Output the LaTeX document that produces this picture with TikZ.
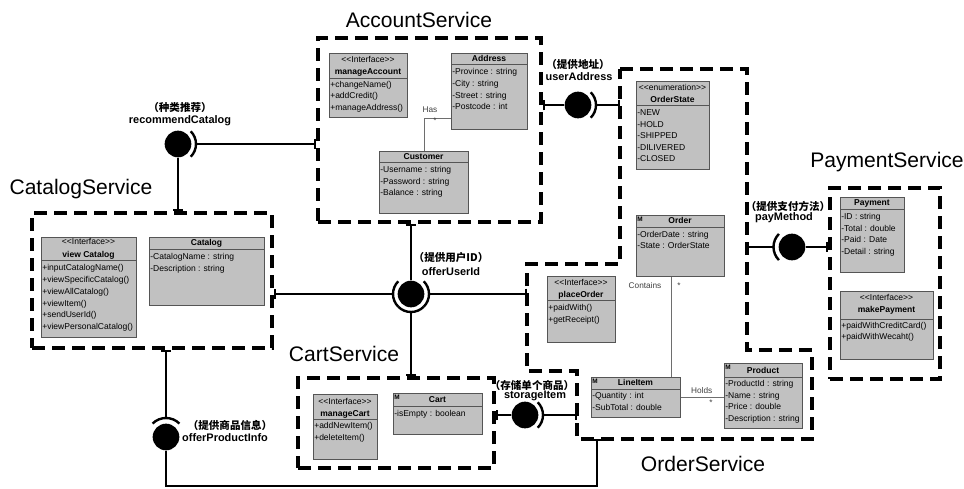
\documentclass[tikz,border=0pt]{standalone}
\usepackage{fontspec}
\setmainfont{Liberation Sans}
\newfontfamily\cjkfont{Noto Sans CJK SC}
\usetikzlibrary{calc,fit,arrows.meta}

\definecolor{clsfill}{RGB}{193,193,193}
\definecolor{clsline}{RGB}{85,85,85}
\definecolor{assocline}{RGB}{110,110,110}

\tikzset{
  svcbound/.style={draw=black, line width=2.5pt, dash pattern=on 9.5pt off 5.5pt, inner sep=0pt},
  orderbound/.style={draw=black, line width=2.5pt, dash pattern=on 9.5pt off 5.5pt},
  clsbox/.style={draw=clsline, fill=clsfill, line width=0.75pt, inner sep=0pt},
  clsdiv/.style={draw=clsline, line width=0.75pt},
  clstext/.style={font=\fontsize{6.4}{7}\selectfont, inner sep=0pt, text height=4.7pt, text depth=1.3pt},
  clsattr/.style={clstext, anchor=west},
  clsname/.style={clstext, font=\fontsize{6.4}{7}\selectfont\bfseries},
  clsicon/.style={font=\fontsize{4.8}{5}\selectfont\bfseries, inner sep=0pt},
  assoc/.style={draw=assocline, line width=0.6pt},
  assoclabel/.style={font=\fontsize{6.2}{7}\selectfont, text=black!75, inner sep=0pt},
  conn/.style={draw=black, line width=1.6pt},
  port/.style={-{Bar[width=8pt]}},
  ball/.style={circle, fill=black, minimum size=20pt, inner sep=0pt},
  socket/.style={draw=black, line width=1.8pt},
  svctitle/.style={font=\fontsize{15.8}{18}\selectfont, inner sep=0pt},
  ifcn/.style={font=\cjkfont\bfseries\fontsize{7.9}{9}\selectfont, inner sep=0pt},
  ifen/.style={font=\bfseries\fontsize{8.2}{9}\selectfont, inner sep=0pt},
}

% class box: name, x1, y1, x2, y2, y of the divider under the header
\newcommand{\umlbox}[6]{%
  \coordinate (#1-nw) at (#2,#3);
  \coordinate (#1-se) at (#4,#5);
  \node[clsbox, fit=(#1-nw)(#1-se)] (#1) {};
  \draw[clsdiv] (#2,#6) -- (#4,#6);
}
% member lines: name prefix, x, list of y/text
\newcommand{\umlmembers}[3]{%
  \foreach \yy/\tt [count=\i] in {#3} {\node[clsattr] (#1-m\i) at (#2,\yy) {\tt};}
}
\newcommand{\stereo}[1]{<\kern0pt<#1>\kern0pt>}

\begin{document}
\begin{tikzpicture}[x=0.75pt,y=-0.75pt]
\fill[white] (0,0) rectangle (964,489);
\useasboundingbox (0,0) rectangle (964,489);

% ---------- service titles ----------
\node[svctitle] (accTitle) at (419,20) {AccountService};
\node[svctitle] (catTitle) at (81,189) {CatalogService};
\node[svctitle] (payTitle) at (887,162) {PaymentService};
\node[svctitle] (cartTitle) at (344,354) {CartService};
\node[svctitle] (ordTitle) at (703,464) {OrderService};

% ---------- AccountService ----------
\umlbox{mAcc}{329}{53}{407}{117}{78}
\node[clstext] (mAcc-s) at (368,60.7) {\stereo{Interface}};
\node[clsname] (mAcc-t) at (368,72.2) {manageAccount};
\umlmembers{mAcc}{330}{85/+changeName(), 96.7/+addCredit(), 108.5/+manageAddress()}

\umlbox{addr}{451}{53}{527}{129}{64.3}
\node[clsname] (addr-t) at (489,59) {Address};
\umlmembers{addr}{452}{72.7/-Province : string, 84.3/-City : string, 96/-Street : string, 107.7/-Postcode : int}

\umlbox{cust}{379}{151}{468}{213}{162}
\node[clsname] (cust-t) at (423.5,157) {Customer};
\umlmembers{cust}{380}{170/-Username : string, 182/-Password : string, 193.7/-Balance : string}

\coordinate (hasBend) at (424,118);
\draw[assoc] (cust.north -| hasBend) -- (hasBend) -- (addr.west |- hasBend);
\node[assoclabel] (hasLbl) at (430,110) {Has};
\node[assoclabel] (hasMul) at (435,121) {*};

% ---------- CatalogService ----------
\umlbox{vCat}{41}{237}{136}{337}{260.7}
\node[clstext] (vCat-s) at (88.5,242.7) {\stereo{Interface}};
\node[clsname] (vCat-t) at (88.5,255.5) {view Catalog};
\umlmembers{vCat}{42}{268.5/+inputCatalogName(), 280.3/+viewSpecificCatalog(), 292.1/+viewAllCatalog(), 303.9/+viewItem(), 315.7/+sendUserId(), 327.5/+viewPersonalCatalog()}

\umlbox{cat}{149}{237}{264}{305}{249}
\node[clsname] (cat-t) at (206.5,243.5) {Catalog};
\umlmembers{cat}{150}{257.3/-CatalogName : string, 269/-Description : string}

% ---------- OrderService ----------
\umlbox{ostate}{636}{81}{709}{169}{105.7}
\node[clstext] (ostate-s) at (672.5,88.3) {\stereo{enumeration}};
\node[clsname] (ostate-t) at (672.5,100.5) {OrderState};
\umlmembers{ostate}{637}{113.3/-NEW, 125/-HOLD, 136.5/-SHIPPED, 148/-DILIVERED, 159.3/-CLOSED}

\umlbox{order}{636}{215}{724}{276}{227.7}
\node[clsicon] (order-i) at (640,219.5) {M};
\node[clsname] (order-t) at (680,221.5) {Order};
\umlmembers{order}{637}{235.3/-OrderDate : string, 246.7/-State : OrderState}

\umlbox{pOrder}{547}{276}{615}{342}{300}
\node[clstext] (pOrder-s) at (581,283.3) {\stereo{Interface}};
\node[clsname] (pOrder-t) at (581,294.8) {placeOrder};
\umlmembers{pOrder}{548}{308.3/+paidWith(), 320/+getReceipt()}

\umlbox{line}{591}{377}{680}{417}{389.3}
\node[clsicon] (line-i) at (595,381.5) {M};
\node[clsname] (line-t) at (635.5,383.3) {LineItem};
\umlmembers{line}{592}{396.7/-Quantity : int, 408.3/-SubTotal : double}

\umlbox{prod}{724}{363}{802}{428}{377.3}
\node[clsicon] (prod-i) at (728,367.5) {M};
\node[clsname] (prod-t) at (763,371) {Product};
\umlmembers{prod}{725}{384.3/-ProductId : string, 396/-Name : string, 407.7/-Price : double, 419.3/-Description : string}

\coordinate (containsX) at (671,300);
\draw[assoc] (order.south -| containsX) -- (line.north -| containsX);
\node[assoclabel] (containsLbl) at (645,286) {Contains};
\node[assoclabel] (containsMul) at (679,286) {*};

\coordinate (holdsY) at (700,397.7);
\draw[assoc] (line.east |- holdsY) -- (prod.west |- holdsY);
\node[assoclabel] (holdsLbl) at (701.7,390.7) {Holds};
\node[assoclabel] (holdsMul) at (711,403) {*};

% ---------- PaymentService ----------
\umlbox{pay}{840}{197}{904}{272}{209.3}
\node[clsname] (pay-t) at (872,203.3) {Payment};
\umlmembers{pay}{841}{217.3/-ID : string, 229.3/-Total : double, 240.7/-Paid : Date, 252/-Detail : string}

\umlbox{mPay}{840}{291}{933}{359}{319.3}
\node[clstext] (mPay-s) at (886.5,298.3) {\stereo{Interface}};
\node[clsname] (mPay-t) at (886.5,310.7) {makePayment};
\umlmembers{mPay}{841}{326/+paidWithCreditCard(), 337.5/+paidWithWecaht()}

% ---------- CartService ----------
\umlbox{mCart}{313}{394}{377}{459}{419.3}
\node[clstext] (mCart-s) at (345,402.3) {\stereo{Interface}};
\node[clsname] (mCart-t) at (345,413.8) {manageCart};
\umlmembers{mCart}{314}{426.7/+addNewItem(), 438.3/+deleteItem()}

\umlbox{cart}{393}{393}{482}{434}{406.7}
\node[clsicon] (cart-i) at (397,397.5) {M};
\node[clsname] (cart-t) at (437.5,400.5) {Cart};
\umlmembers{cart}{394}{414/-isEmpty : boolean}

% ---------- service boundaries ----------
\coordinate (accNW) at (318,38);   \coordinate (accSE) at (541,222);
\coordinate (catNW) at (32,213);   \coordinate (catSE) at (272,348);
\coordinate (cartNW) at (298,378); \coordinate (cartSE) at (494,468);
\coordinate (payNW) at (830,188);  \coordinate (paySE) at (940,379);
\node[svcbound, fit=(accNW)(accSE)] (accSvc) {};
\node[svcbound, fit=(catNW)(catSE)] (catSvc) {};
\node[svcbound, fit=(cartNW)(cartSE)] (cartSvc) {};
\node[svcbound, fit=(payNW)(paySE)] (paySvc) {};

\coordinate (oA) at (620,69);  \coordinate (oB) at (747,69);
\coordinate (oC) at (747,350); \coordinate (oD) at (812,350);
\coordinate (oE) at (812,439); \coordinate (oF) at (577,439);
\coordinate (oG) at (577,371); \coordinate (oH) at (527,371);
\coordinate (oI) at (527,264); \coordinate (oJ) at (620,264);
\draw[orderbound] (oA) -- (oB) -- (oC) -- (oD) -- (oE) -- (oF) -- (oG) -- (oH) -- (oI) -- (oJ) -- cycle;

% ---------- interfaces: balls and sockets ----------
% recommendCatalog
\node[ball] (rcBall) at (178,144) {};
\draw[socket] ($(rcBall)+(-45:18)$) arc[start angle=-45, end angle=45, radius=18];
\draw[conn, port] ($(rcBall)+(18,0)$) -- (accSvc.west |- rcBall);
\draw[conn, port] (rcBall.south) -- (catSvc.north -| rcBall);
\node[ifcn] (rcCn) at (180,107) {（种类推荐）};
\node[ifen] (rcEn) at (180,121) {recommendCatalog};

% userAddress
\node[ball] (uaBall) at (578,105) {};
\draw[socket] ($(uaBall)+(-45:18)$) arc[start angle=-45, end angle=45, radius=18];
\draw[conn, port] (uaBall.west) -- (accSvc.east |- uaBall);
\draw[conn, port] ($(uaBall)+(18,0)$) -- (oA |- uaBall);
\node[ifcn] (uaCn) at (578,64) {（提供地址）};
\node[ifen] (uaEn) at (579,77) {userAddress};

% offerUserId
\node[ball] (ouBall) at (411,294) {};
\draw[socket] ($(ouBall)+(-45:18)$) arc[start angle=-45, end angle=45, radius=18];
\draw[socket] ($(ouBall)+(135:18)$) arc[start angle=135, end angle=225, radius=18];
\draw[socket] ($(ouBall)+(45:18)$) arc[start angle=45, end angle=135, radius=18];
\draw[conn, port] (ouBall.north) -- (accSvc.south -| ouBall);
\draw[conn, port] ($(ouBall)+(-18,0)$) -- (catSvc.east |- ouBall);
\draw[conn, port] ($(ouBall)+(18,0)$) -- (oI |- ouBall);
\draw[conn, port] ($(ouBall)+(0,18)$) -- (cartSvc.north -| ouBall);
\node[ifcn] (ouCn) at (451,258) {（提供用户ID）};
\node[ifen] (ouEn) at (451,272) {offerUserId};

% storageItem
\node[ball] (siBall) at (525,415) {};
\draw[socket] ($(siBall)+(-45:18)$) arc[start angle=-45, end angle=45, radius=18];
\draw[conn, port] (siBall.west) -- (cartSvc.east |- siBall);
\draw[conn, port] ($(siBall)+(18,0)$) -- (oF |- siBall);
\node[ifcn] (siCn) at (532,385) {（存储单个商品）};
\node[ifen] (siEn) at (535,395.5) {storageItem};

% payMethod
\node[ball] (pmBall) at (792,247) {};
\draw[socket] ($(pmBall)+(135:18.5)$) arc[start angle=135, end angle=225, radius=18.5];
\draw[conn, port] (pmBall.east) -- (paySvc.west |- pmBall);
\draw[conn, port] ($(pmBall)+(-18.5,0)$) -- (oB |- pmBall);
\node[ifcn] (pmCn) at (788,206) {（提供支付方法）};
\node[ifen] (pmEn) at (784,218) {payMethod};

% offerProductInfo
\node[ball] (opBall) at (166,437) {};
\draw[socket] ($(opBall)+(-135:19)$) arc[start angle=-135, end angle=-45, radius=19];
\draw[conn, port] ($(opBall)+(0,-19)$) -- (catSvc.south -| opBall);
\coordinate (opCorner) at (597,486);
\draw[conn, port] (opBall.south) |- (opCorner) -- (opCorner |- oF);
\node[ifcn] (opCn) at (230,425.5) {（提供商品信息）};
\node[ifen] (opEn) at (225,438) {offerProductInfo};
\end{tikzpicture}
\end{document}
